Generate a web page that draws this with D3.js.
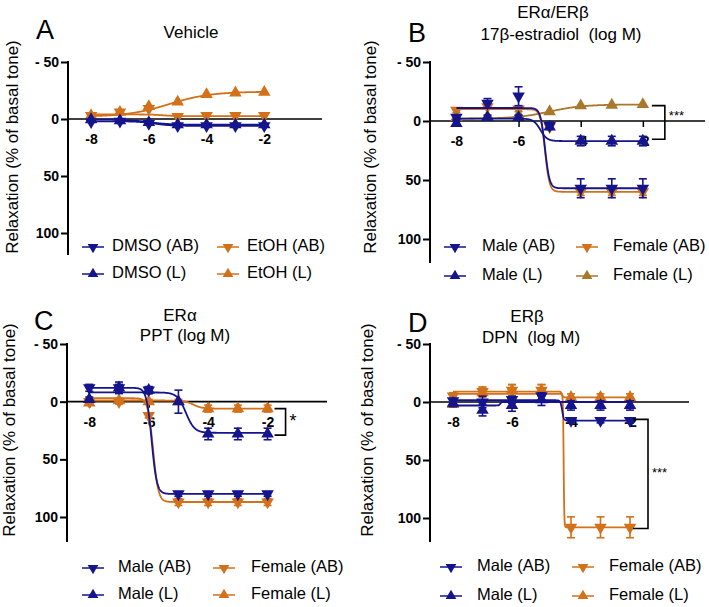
<!DOCTYPE html>
<html>
<head>
<meta charset="utf-8">
<script src="https://cdn.jsdelivr.net/npm/d3@7/dist/d3.min.js"></script>
<style>
  body { margin: 0; background: #fff; }
  svg { display: block; font-family: Arial, "Liberation Sans", sans-serif; }
  text { white-space: pre; }
</style>
</head>
<body>
<div id="chart"></div>
<script>
// shared axis values
const concentrations = [-8, -7, -6, -5, -4, -3, -2];
const xTickValues = [-8, -6, -4, -2];
const xTickLabels = ["-8", "-6", "-4", "-2"];
const yTickValues = [-50, 0, 50, 100];
const yTickLabels = ["- 50", "0", "50", "100"];
const yAxisTitle = "Relaxation (% of basal tone)";

// Panel A - vehicle
const vehicleNames = ["DMSO (AB)", "DMSO (L)", "EtOH (AB)", "EtOH (L)"];
const dmsoAB = [2.5, 2, 4, 6, 6, 6, 6];
const dmsoL = [0.5, 1.5, 3, 5, 5, 5, 5];
const etohAB = [-3, -6, -9, -2, -3, -3, -3];
const etohL = [-3, -6, -11, -15, -21.5, -23, -23.5];
// fit parameters: [left plateau, right plateau, logEC50, hill]
const fitA = [[2, 6, -5.8, 1.5], [0.5, 5, -6, 1.2], [-4, -2.5, -5.5, 2], [-2, -24, -5.3, 0.6]];

// Panel B - 17b-estradiol
const sexNames = ["Male (AB)", "Male (L)", "Female (AB)", "Female (L)"];
const e2MaleAB = [-3, -15, -21, 4, 57, 57, 57];
const e2MaleABErr = [2, 4, 8, 3, 8, 8, 8];
const e2MaleL = [2, -3, -3, 5, 17, 17, 17];
const e2MaleLErr = [2, 2, 2, 2, 4, 4, 4];
const e2FemaleAB = [-9, -12, -10, 5, 60, 60, 60];
const e2FemaleABErr = [2, 2, 2, 2, 3, 3, 3];
const e2FemaleL = [-3, -4, -5, -8, -13, -13.5, -14];
const e2FemaleLErr = [0, 0, 0, 0, 0, 0, 0];
const fitB = [[-11, 57, -5.15, 6], [-2, 17, -5.3, 4], [-10, 60, -5.15, 6], [-2, -14, -5, 0.8]];

// Panel C - PPT
const pptMaleAB = [-12, -12, -10, 80, 80, 80, 80];
const pptMaleABErr = [3, 5, 3, 2, 2, 2, 2];
const pptMaleL = [-2, -12, -10, 0, 28, 28, 28];
const pptMaleLErr = [2, 3, 3, 10, 5, 5, 5];
const pptFemaleAB = [0, 0, 12, 87, 87, 87, 87];
const pptFemaleABErr = [2, 2, 2, 3, 3, 3, 3];
const pptFemaleL = [1, -1, 0, 0, 6, 6, 6];
const pptFemaleLErr = [2, 2, 2, 2, 3, 3, 3];
const fitC = [[-12, 80, -5.9, 5], [-8, 27, -4.75, 3], [-3, 87, -5.85, 5], [-1, 6, -4.5, 3]];

// Panel D - DPN
const dpnMaleAB = [-1, 0, -2, -5, 16, 16, 16];
const dpnMaleABErr = [2, 5, 3, 3, 2, 2, 2];
const dpnMaleL = [1, 7, 3, -2, 3, 3, 3];
const dpnMaleLErr = [3, 5, 5, 5, 4, 4, 4];
const dpnFemaleAB = [-5, -9, -10, -10, 108, 108, 108];
const dpnFemaleABErr = [3, 4, 5, 5, 9, 9, 9];
const dpnFemaleL = [2, -8, -10, -10, -4, -4, -4];
const dpnFemaleLErr = [2, 4, 5, 5, 3, 3, 3];
const fitD = [[-1.5, 16, -4.3, 15], [3, 0, -6.4, 20], [-7, 108, -4.25, 40], [-9, -4, -4.3, 20]];

const navy = "#14148c";
const orange = "#d2711a";
const brown = "#a8792c";

const svg = d3.select("#chart").append("svg")
  .attr("width", 709)
  .attr("height", 607);

function sigmoid(p, x) {
  return p[1] + (p[0] - p[1]) / (1 + Math.pow(10, (x - p[2]) * p[3]));
}

const panels = [
  {
    letter: "A", letterPos: [36, 39], titles: [{text: "Vehicle", x: 191, y: 38}],
    xDomain: [-8.8, 0], xRange: [68, 322], yRange: [62, 233], yBottom: 255,
    yTitle: [14, 147],
    names: vehicleNames, colors: [navy, navy, orange, orange],
    values: [dmsoAB, dmsoL, etohAB, etohL], errors: [null, null, null, null], fits: fitA,
    legend: {rows: [247, 274], cols: [[82, 112], [217, 247]]}
  },
  {
    letter: "B", letterPos: [408, 42],
    titles: [{text: "ERα/ERβ", x: 553, y: 18}, {text: "17β-estradiol  (log M)", x: 561, y: 40}],
    xDomain: [-8.85, 0], xRange: [430, 705], yRange: [62, 239], yBottom: 263,
    yTitle: [372, 147],
    names: sexNames, colors: [navy, navy, orange, brown],
    values: [e2MaleAB, e2MaleL, e2FemaleAB, e2FemaleL],
    errors: [e2MaleABErr, e2MaleLErr, e2FemaleABErr, e2FemaleLErr], fits: fitB,
    legend: {rows: [247, 276], cols: [[444, 482], [576, 613]]},
    bracket: {y1: -13, y2: 15.5, x1: 9, x2: 22, label: "***", size: 13, dy: -6}
  },
  {
    letter: "C", letterPos: [34, 330],
    titles: [{text: "ERα", x: 180, y: 321}, {text: "PPT (log M)", x: 185, y: 341}],
    xDomain: [-8.75, 0], xRange: [67, 327], yRange: [344, 517], yBottom: 542,
    yTitle: [11, 430],
    names: sexNames, colors: [navy, navy, orange, orange],
    values: [pptMaleAB, pptMaleL, pptFemaleAB, pptFemaleL],
    errors: [pptMaleABErr, pptMaleLErr, pptFemaleABErr, pptFemaleLErr], fits: fitC,
    legend: {rows: [568, 595], cols: [[82, 118], [213, 251]]},
    bracket: {y1: 6, y2: 29, x1: 7, x2: 18, label: "*", size: 18, dy: 0}
  },
  {
    letter: "D", letterPos: [408, 332],
    titles: [{text: "ERβ", x: 527, y: 322}, {text: "DPN  (log M)", x: 531, y: 343}],
    xDomain: [-8.78, 0], xRange: [430, 689], yRange: [344, 518], yBottom: 542,
    yTitle: [369, 430],
    names: sexNames, colors: [navy, navy, orange, orange],
    values: [dpnMaleAB, dpnMaleL, dpnFemaleAB, dpnFemaleL],
    errors: [dpnMaleABErr, dpnMaleLErr, dpnFemaleABErr, dpnFemaleLErr], fits: fitD,
    legend: {rows: [567, 596], cols: [[440, 477], [572, 609]]},
    bracket: {y1: 15, y2: 109, x1: 3, x2: 18, label: "***", size: 13, dy: 0}
  }
];

const triangle = d3.symbol().type(d3.symbolTriangle).size(68);
const legendTriangle = d3.symbol().type(d3.symbolTriangle).size(50);

panels.forEach(function(p) {
  const g = svg.append("g");
  const x = d3.scaleLinear().domain(p.xDomain).range(p.xRange);
  const y = d3.scaleLinear().domain([-50, 100]).range(p.yRange);

  // panel letter and titles
  g.append("text").attr("x", p.letterPos[0]).attr("y", p.letterPos[1])
    .attr("font-size", "27px").text(p.letter);
  p.titles.forEach(function(t) {
    g.append("text").attr("x", t.x).attr("y", t.y)
      .attr("text-anchor", "middle").attr("font-size", "17px").text(t.text);
  });

  // y axis
  const yAxis = d3.axisLeft(y).tickValues(yTickValues)
    .tickFormat((d, i) => yTickLabels[i]).tickSize(7).tickPadding(2);
  const ya = g.append("g").attr("transform", `translate(${p.xRange[0]},0)`).call(yAxis);
  ya.select(".domain").remove();
  ya.selectAll(".tick line").attr("stroke", "#000").attr("stroke-width", 2);
  ya.selectAll(".tick text").attr("font-size", "14px").attr("font-weight", "bold")
    .attr("font-family", "Arial, 'Liberation Sans', sans-serif").attr("fill", "#000");
  g.append("line").attr("x1", p.xRange[0]).attr("x2", p.xRange[0])
    .attr("y1", y(-50) - 1).attr("y2", p.yBottom)
    .attr("stroke", "#000").attr("stroke-width", 2);

  g.append("text")
    .attr("transform", `translate(${p.yTitle[0]},${p.yTitle[1]}) rotate(-90)`)
    .attr("text-anchor", "middle").attr("dominant-baseline", "middle")
    .attr("font-size", "17px").text(yAxisTitle);

  // x axis through zero
  const xAxis = d3.axisBottom(x).tickValues(xTickValues)
    .tickFormat((d, i) => xTickLabels[i]).tickSize(6).tickPadding(9);
  const xa = g.append("g").attr("transform", `translate(0,${y(0)})`).call(xAxis);
  xa.select(".domain").attr("stroke", "#000").attr("stroke-width", 1.6)
    .attr("d", `M${p.xRange[0]},0H${p.xRange[1]}`);
  xa.selectAll(".tick line").attr("stroke", "#000").attr("stroke-width", 1.5);
  xa.selectAll(".tick text").attr("font-size", "14px").attr("font-weight", "bold")
    .attr("font-family", "Arial, 'Liberation Sans', sans-serif").attr("fill", "#000");

  // draw series, female / EtOH first so male / DMSO sit on top
  const order = [2, 3, 0, 1];
  const fitLine = d3.line().x(d => x(d[0])).y(d => y(d[1]));
  const xs = d3.range(-8, -1.999, 0.005);
  order.forEach(function(i) {
    const color = p.colors[i];
    const isAB = i % 2 === 0;
    g.append("path")
      .attr("d", fitLine(xs.map(v => [v, sigmoid(p.fits[i], v)])))
      .attr("fill", "none").attr("stroke", color).attr("stroke-width", 1.8);

    const err = p.errors[i];
    if (err) {
      p.values[i].forEach(function(v, k) {
        if (!err[k]) return;
        const cx = x(concentrations[k]);
        const eg = g.append("g").attr("stroke", color).attr("stroke-width", 1.6);
        eg.append("line").attr("x1", cx).attr("x2", cx).attr("y1", y(v - err[k])).attr("y2", y(v + err[k]));
        eg.append("line").attr("x1", cx - 4).attr("x2", cx + 4).attr("y1", y(v - err[k])).attr("y2", y(v - err[k]));
        eg.append("line").attr("x1", cx - 4).attr("x2", cx + 4).attr("y1", y(v + err[k])).attr("y2", y(v + err[k]));
      });
    }

    g.selectAll(null)
      .data(p.values[i])
      .enter()
      .append("path")
      .attr("d", triangle)
      .attr("fill", color)
      .attr("transform", (d, k) => `translate(${x(concentrations[k])},${y(d)})` + (isAB ? " rotate(180)" : ""));
  });

  // significance bracket
  if (p.bracket) {
    const b = p.bracket;
    const bx1 = x(-2) + b.x1, bx2 = x(-2) + b.x2;
    g.append("path")
      .attr("d", `M${bx1},${y(b.y1)}H${bx2}V${y(b.y2)}H${bx1}`)
      .attr("fill", "none").attr("stroke", "#000").attr("stroke-width", 1.6);
    g.append("text").attr("x", bx2 + 4).attr("y", (y(b.y1) + y(b.y2)) / 2 + b.dy)
      .attr("dominant-baseline", "middle").attr("font-size", b.size + "px").text(b.label);
  }

  // legend
  const lg = g.append("g");
  p.names.forEach(function(name, i) {
    const col = Math.floor(i / 2), row = i % 2;
    const lx = p.legend.cols[col][0], tx = p.legend.cols[col][1], ly = p.legend.rows[row];
    const color = p.colors[i];
    lg.append("line").attr("x1", lx).attr("x2", lx + 22).attr("y1", ly).attr("y2", ly)
      .attr("stroke", color).attr("stroke-width", 1.5);
    lg.append("path").attr("d", legendTriangle).attr("fill", color)
      .attr("transform", `translate(${lx + 11},${ly})` + (i % 2 === 0 ? " rotate(180)" : ""));
    lg.append("text").attr("x", tx).attr("y", ly).attr("dominant-baseline", "middle")
      .attr("font-size", "16.5px").text(name);
  });
});
</script>
</body>
</html>
